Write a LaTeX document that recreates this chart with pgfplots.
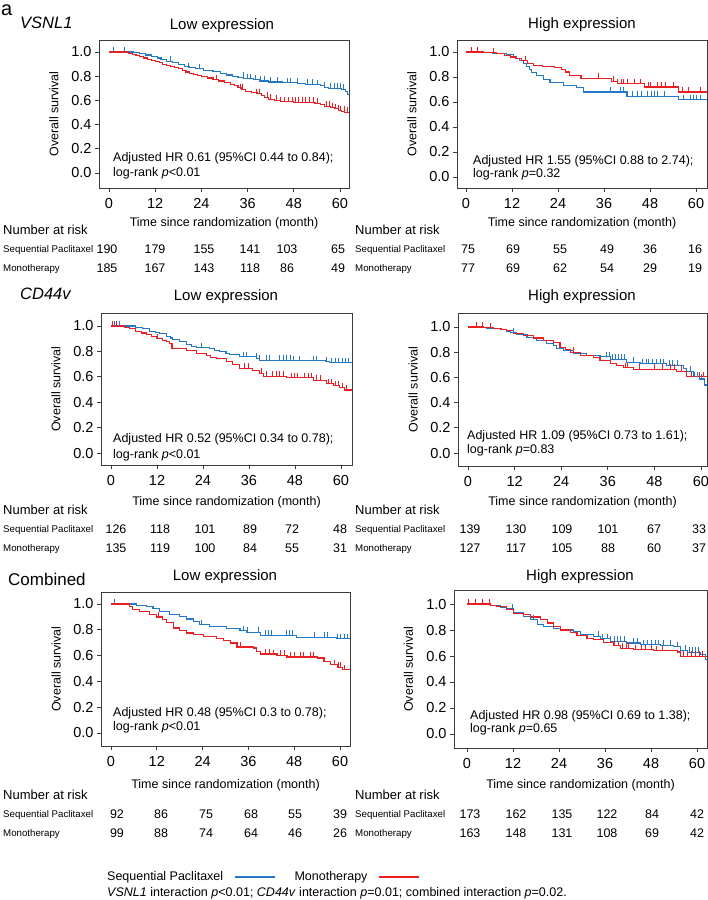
\documentclass[border=0pt]{standalone}
\usepackage{fontspec}
\setmainfont{Liberation Sans}
\usepackage{pgfplots}
\pgfplotsset{compat=1.18}
\definecolor{kmblue}{RGB}{35,120,200}
\definecolor{kmred}{RGB}{235,30,35}
\definecolor{axgray}{RGB}{60,60,60}
\newcommand\fs[1]{\fontsize{#1}{#1}\selectfont}
\pgfdeclareplotmark{cens}{\pgfpathmoveto{\pgfpoint{0pt}{0pt}}\pgfpathlineto{\pgfpoint{0pt}{5pt}}\pgfusepathqstroke}
\pgfplotsset{
  km/.style={
    scale only axis, anchor=north west,
    axis line style={draw=axgray, line width=0.8pt},
    xtick={0,12,24,36,48,60}, ytick={0,0.2,0.4,0.6,0.8,1.0},
    xtick pos=bottom, ytick pos=left,
    tick align=outside, major tick length=4pt,
    tick style={draw=axgray, line width=0.7pt},
    ticklabel style={font=\fs{14.5}},
    /pgf/number format/assume math mode=true,
    y tick label style={/pgf/number format/.cd, fixed, fixed zerofill, precision=1, /tikz/.cd},
    x tick label style={yshift=-3pt},
    xlabel={Time since randomization (month)},
    ylabel={Overall survival},
    label style={font=\fs{12.5}},
    xlabel style={at={(axis description cs:0.5,0)}, anchor=center},
    ylabel style={at={(axis description cs:-0.18,0.5)}, anchor=center},
  },
  bl/.style={kmblue, line width=1.1pt, const plot, no marks},
  rl/.style={kmred, line width=1.1pt, const plot, no marks},
  bc/.style={only marks, mark=cens, mark options={kmblue, line width=0.6pt}, forget plot},
  rc/.style={only marks, mark=cens, mark options={kmred, line width=0.6pt}, forget plot},
}
\begin{document}
\begin{tikzpicture}
\useasboundingbox (0pt,0pt) rectangle (708pt,-900pt);

% ---------------- Panel 1: VSNL1 low
\begin{axis}[km, at={(99pt,-40pt)}, width=250pt, height=148pt,
  xmin=-2.6, xmax=62.34, ymin=-0.124, ymax=1.099, xlabel style={yshift=-35pt}]
\addplot[bl] coordinates {(0,1)(6.3,0.995)(8,0.985)(9.5,0.975)(11,0.96)(12.5,0.95)(13.5,0.94)(15,0.925)(16.5,0.91)(18,0.895)(19.5,0.88)(21,0.87)(22.5,0.86)(24.5,0.85)(27,0.84)(29,0.825)(30.5,0.81)(32,0.80)(33.5,0.79)(35,0.78)(37.5,0.77)(39,0.76)(41.5,0.752)(45,0.745)(49,0.74)(51,0.735)(54,0.728)(55,0.72)(56,0.71)(57,0.70)(60.5,0.69)(61.5,0.67)(62,0.65)(62.34,0.65)};
\addplot[rl] coordinates {(0,1)(5,0.99)(6,0.98)(7,0.97)(8,0.96)(9,0.95)(10,0.94)(11,0.93)(12,0.92)(13,0.91)(14,0.90)(15,0.89)(16,0.88)(17,0.87)(18,0.86)(19,0.85)(20,0.835)(21,0.825)(22,0.815)(23,0.805)(24,0.795)(25.5,0.785)(27,0.77)(28.5,0.76)(30,0.745)(31.5,0.735)(32.5,0.72)(33.5,0.705)(34.5,0.69)(35.5,0.675)(37,0.665)(38.5,0.655)(39.5,0.64)(40.5,0.625)(41.5,0.61)(43,0.60)(44.5,0.59)(48,0.585)(53.5,0.575)(55,0.565)(56,0.55)(57.5,0.54)(58.5,0.53)(59.5,0.52)(60.5,0.51)(61.2,0.50)(62.34,0.50)};
\addplot[bc] coordinates {(1.1,1)(3.9,1)(15.8,0.925)(20.6,0.87)(23.5,0.86)(34.9,0.79)(35.8,0.78)(36.8,0.78)(38.1,0.77)(39.4,0.76)(40.3,0.76)(42,0.752)(43.7,0.752)(46.3,0.745)(47.2,0.745)(48.9,0.745)(51.5,0.735)(52.8,0.735)(54.1,0.728)(55.8,0.71)(57.5,0.70)(58.4,0.70)(59.3,0.70)(60,0.70)(60.8,0.69)};
\addplot[rc] coordinates {(28,0.77)(34,0.69)(34.6,0.69)(38.2,0.655)(39,0.655)(41,0.625)(42,0.61)(43.5,0.60)(44.6,0.59)(45.5,0.59)(46.5,0.59)(47.5,0.59)(48.5,0.585)(49.3,0.585)(50.2,0.585)(51,0.585)(52,0.585)(53,0.585)(54,0.575)(56.5,0.55)(57.3,0.55)(58,0.54)(58.8,0.53)(59.5,0.52)(60.2,0.51)(61,0.51)(61.8,0.50)};
\end{axis}

% ---------------- Panel 2: VSNL1 high
\begin{axis}[km, at={(457pt,-40pt)}, width=250pt, height=148pt,
  xmin=-2.35, xmax=62.87, ymin=-0.088, ymax=1.096, xlabel style={yshift=-35pt}]
\addplot[bl] coordinates {(0,1)(4.4,0.995)(7,0.99)(9,0.985)(10.5,0.98)(12.3,0.96)(13.2,0.95)(14,0.935)(15,0.91)(15.8,0.885)(16.5,0.86)(17,0.835)(18.4,0.81)(20.1,0.78)(21.9,0.755)(25.4,0.735)(28.9,0.715)(30.6,0.68)(42,0.645)(55.4,0.62)(62.87,0.62)};
\addplot[rl] coordinates {(0,1)(4.5,0.995)(8,0.985)(10,0.975)(11.5,0.96)(13,0.945)(14.5,0.93)(16,0.91)(17.5,0.895)(20,0.885)(23,0.875)(25,0.86)(26,0.84)(27,0.81)(30,0.79)(38,0.765)(39.5,0.745)(46.5,0.72)(55.5,0.68)(62.87,0.68)};
\addplot[bc] coordinates {(37.6,0.68)(40.2,0.68)(41,0.68)(43.5,0.645)(44.7,0.645)(45.6,0.645)(47.4,0.645)(48.3,0.645)(49.2,0.645)(50,0.645)(51.7,0.645)(56.7,0.62)(58.5,0.62)(59.3,0.62)(60.2,0.62)(61,0.62)};
\addplot[rc] coordinates {(1.5,1)(3,1)(7,0.99)(15.5,0.93)(34.5,0.79)(38.5,0.765)(39.5,0.745)(40.5,0.745)(41,0.745)(42,0.745)(44,0.745)(45.5,0.745)(47.5,0.72)(48,0.72)(50,0.72)(51,0.72)(52,0.72)(54,0.72)(56.5,0.68)(58,0.68)(61,0.68)};
\end{axis}

% ---------------- Panel 3: CD44v low
\begin{axis}[km, at={(101pt,-313pt)}, width=251pt, height=152pt,
  xmin=-2.61, xmax=62.87, ymin=-0.094, ymax=1.102, xlabel style={yshift=-37pt}]
\addplot[bl] coordinates {(0,1)(6.5,0.99)(8.3,0.98)(10,0.96)(11.5,0.95)(12.6,0.94)(14.4,0.92)(15.5,0.905)(16.1,0.89)(17.9,0.875)(19.6,0.855)(21,0.84)(22.2,0.83)(25.7,0.82)(27,0.81)(28.3,0.80)(30,0.785)(31,0.775)(33.6,0.757)(38,0.745)(38.8,0.73)(47.5,0.725)(56,0.72)(57.1,0.712)(62.87,0.712)};
\addplot[rl] coordinates {(0,1)(3.5,0.99)(4.8,0.98)(6.5,0.96)(8,0.945)(9.2,0.93)(10.5,0.915)(11.8,0.90)(13.5,0.888)(14.5,0.875)(15.3,0.862)(16.1,0.822)(19.6,0.804)(22.2,0.783)(24.8,0.765)(26,0.755)(27.5,0.744)(30.1,0.718)(31.8,0.697)(33.6,0.666)(37,0.653)(38.8,0.627)(39.7,0.605)(45.8,0.593)(52.8,0.574)(56.3,0.545)(58,0.53)(59.7,0.515)(61,0.496)(62.87,0.496)};
\addplot[bc] coordinates {(0.9,1)(2.2,1)(23.5,0.83)(34.4,0.757)(35.3,0.757)(38,0.745)(38.8,0.73)(40.5,0.73)(41.4,0.73)(44,0.73)(44.9,0.73)(45.8,0.73)(46.7,0.73)(47.5,0.725)(49.2,0.725)(52.7,0.725)(53.6,0.725)(56.2,0.72)(57.6,0.712)(58.5,0.712)(59.4,0.712)(60.3,0.712)(61.1,0.712)(62,0.712)};
\addplot[rc] coordinates {(0.4,1)(1.3,1)(12.2,0.9)(15.7,0.822)(34.9,0.666)(35.7,0.666)(39.2,0.627)(40.5,0.605)(42,0.605)(43,0.605)(44,0.605)(45,0.605)(47,0.593)(47.8,0.593)(48.7,0.593)(50.5,0.593)(51.4,0.593)(52.3,0.593)(53.6,0.574)(54.5,0.574)(56.8,0.545)(57.5,0.545)(58.5,0.53)(59.2,0.53)(60.3,0.515)(61.5,0.496)};
\end{axis}

% ---------------- Panel 4: CD44v high
\begin{axis}[km, at={(458pt,-313pt)}, width=249pt, height=153pt,
  xmin=-2.58, xmax=61.55, ymin=-0.103, ymax=1.111, xlabel style={yshift=-36pt}]
\addplot[bl] coordinates {(0,1)(3.2,0.995)(4.9,0.99)(8.3,0.98)(10,0.965)(11,0.955)(12.6,0.94)(15.2,0.92)(17.7,0.895)(20.3,0.868)(22,0.85)(22.9,0.83)(24.6,0.816)(27.2,0.79)(30.6,0.776)(34,0.763)(36.6,0.745)(40.9,0.72)(44.3,0.71)(51.2,0.697)(55.4,0.671)(56.3,0.65)(58,0.605)(59.7,0.587)(61,0.54)(61.55,0.54)};
\addplot[rl] coordinates {(0,1)(4,0.995)(6.6,0.99)(8.5,0.98)(10,0.97)(11.7,0.947)(14.3,0.93)(16.9,0.913)(19.5,0.895)(22,0.874)(23.7,0.84)(25,0.82)(26.3,0.80)(28.9,0.776)(32.3,0.758)(34,0.737)(36.6,0.71)(38.3,0.697)(40,0.676)(42.6,0.666)(53.7,0.65)(56.3,0.61)(58,0.605)(61.55,0.605)};
\addplot[bc] coordinates {(11.7,0.955)(35.7,0.763)(36.4,0.763)(37.2,0.745)(38,0.745)(38.8,0.745)(39.5,0.745)(40.3,0.745)(42.5,0.72)(44.8,0.71)(45.8,0.71)(46.5,0.71)(47.5,0.71)(48.5,0.71)(49.5,0.71)(50.3,0.71)(51.8,0.697)(52.5,0.697)(53.8,0.697)(57.2,0.65)(58.3,0.605)(59,0.605)(60,0.587)};
\addplot[rc] coordinates {(2.1,1)(3.6,1)(5.7,0.995)(27,0.80)(40.5,0.676)(41,0.676)(44,0.666)(48,0.666)(50,0.666)(52,0.666)(53,0.666)(55,0.65)(57.5,0.605)(59.5,0.605)(60.5,0.605)};
\end{axis}

% ---------------- Panel 5: Combined low
\begin{axis}[km, at={(101pt,-592pt)}, width=249pt, height=154pt,
  xmin=-2.62, xmax=62.62, ymin=-0.101, ymax=1.093, xlabel style={yshift=-39pt},
  legend plot pos=right, legend columns=2,
  legend image code/.code={\path (0pt,0pt); \draw[#1, line width=1.5pt] (11pt,0pt) -- (51pt,0pt);},
  legend style={draw=none, fill=none, inner sep=0pt, font=\fs{12.5}, nodes={inner sep=0pt},
    at={(rel axis cs:0.024,-0.851)}, anchor=west,
    /tikz/every even column/.append style={column sep=19pt}}]
\addplot[bl] coordinates {(0,1)(6.6,0.99)(9.2,0.98)(11,0.964)(12.7,0.943)(15.4,0.922)(18,0.904)(19.8,0.884)(21.5,0.866)(23.3,0.84)(25.9,0.827)(30.3,0.81)(33.8,0.793)(35.6,0.78)(39.1,0.757)(48.5,0.742)(59,0.73)(62.62,0.73)};
\addplot[rl] coordinates {(0,1)(4.8,0.98)(5.7,0.96)(7.5,0.943)(10.1,0.922)(11.9,0.899)(13.6,0.879)(14.5,0.86)(16.3,0.814)(18,0.796)(19.8,0.775)(21.5,0.762)(24.2,0.75)(27.7,0.736)(29.4,0.716)(31.2,0.698)(33,0.667)(37.3,0.659)(38.2,0.633)(39.1,0.612)(43.5,0.602)(46.1,0.589)(54,0.581)(55.8,0.556)(57.6,0.53)(59.3,0.51)(60.6,0.49)(62.62,0.49)};
\legend{Sequential Paclitaxel, Monotherapy}
\addplot[bc] coordinates {(0.9,1)(23.7,0.84)(34.7,0.793)(35.6,0.78)(38.5,0.78)(40.4,0.757)(41.2,0.757)(42,0.757)(46,0.757)(46.8,0.757)(47.6,0.757)(53.2,0.742)(55.8,0.742)(56.7,0.742)(59.3,0.73)(60.1,0.73)(61,0.73)(61.8,0.73)};
\addplot[rc] coordinates {(12.3,0.899)(33.8,0.667)(40.4,0.612)(41.5,0.612)(42.6,0.602)(44.4,0.602)(45.3,0.602)(47,0.589)(47.9,0.589)(49.6,0.589)(50.5,0.589)(52.2,0.589)(53.1,0.589)(58.5,0.53)(59.5,0.51)(60.2,0.51)(61.2,0.49)};
\end{axis}

% ---------------- Panel 6: Combined high
\begin{axis}[km, at={(454pt,-590pt)}, width=253pt, height=158pt,
  xmin=-3.39, xmax=62.6, ymin=-0.108, ymax=1.108, xlabel style={yshift=-37pt}]
\addplot[bl] coordinates {(0,1)(4.3,0.995)(6.1,0.99)(8.7,0.977)(10.4,0.964)(12.2,0.938)(14.8,0.905)(16.5,0.879)(18.3,0.846)(20,0.828)(22.6,0.815)(24.3,0.80)(27.8,0.79)(29.6,0.764)(33,0.751)(34.8,0.733)(37.4,0.713)(41.7,0.70)(45.2,0.687)(50.4,0.682)(53.9,0.67)(55.7,0.644)(57.4,0.628)(60.9,0.615)(62.2,0.57)(62.6,0.57)};
\addplot[rl] coordinates {(0,1)(6.1,0.99)(7.8,0.98)(10.4,0.956)(12.2,0.93)(14.8,0.918)(16.5,0.9)(19.1,0.879)(20.9,0.854)(22.6,0.828)(24.3,0.80)(27,0.78)(28.7,0.756)(31.3,0.738)(33,0.726)(35.7,0.705)(38.3,0.68)(40,0.66)(43.5,0.649)(48.7,0.641)(54.8,0.631)(55.7,0.597)(62.6,0.597)};
\addplot[bc] coordinates {(11.7,0.964)(17.4,0.879)(34.3,0.751)(35.2,0.733)(36.5,0.733)(37.5,0.713)(38.3,0.713)(39.1,0.713)(40,0.713)(41,0.713)(43.5,0.70)(44.3,0.70)(46,0.687)(47,0.687)(48,0.687)(49,0.687)(50,0.687)(51.3,0.682)(53,0.682)(54.8,0.67)(57,0.644)(58,0.628)(58.8,0.628)(59.6,0.628)(60.4,0.628)};
\addplot[rc] coordinates {(0.4,1)(2.2,1)(3.9,1)(5.7,1)(38.5,0.68)(39.5,0.68)(40.5,0.66)(41.5,0.66)(42.2,0.66)(44,0.649)(45.5,0.649)(46.5,0.649)(48,0.649)(49.5,0.641)(51,0.641)(56.5,0.597)(57.5,0.597)(58.5,0.597)(59.5,0.597)(60.5,0.597)(61.5,0.597)};
\end{axis}

% ---------------- section labels and titles
\node[anchor=base west, inner sep=0, font=\fs{20}] at (1pt,-15pt) {a};
\node[anchor=base west, inner sep=0, font=\fs{16.5}\itshape] at (20pt,-28.3pt) {VSNL1};
\node[anchor=base west, inner sep=0, font=\fs{16.5}\itshape] at (20pt,-299.5pt) {CD44v};
\node[anchor=base west, inner sep=0, font=\fs{17}] at (8pt,-585pt) {Combined};
\foreach \x/\y/\t in {222/29.5/Low, 582/28.5/High, 226/300.5/Low, 582/300.5/High, 225/580.5/Low, 580/580.5/High}
  \node[anchor=base, inner sep=0, font=\fs{15}] at (\x pt,-\y pt) {\t{} expression};

% ---------------- HR annotations
\node[anchor=base west, inner sep=0, font=\fs{12.5}] at (113pt,-161.5pt) {Adjusted HR 0.61 (95\%CI 0.44 to 0.84);};
\node[anchor=base west, inner sep=0, font=\fs{12.5}] at (113pt,-176.3pt) {log-rank \textit{p}<0.01};
\node[anchor=base west, inner sep=0, font=\fs{12.5}] at (473pt,-164.5pt) {Adjusted HR 1.55 (95\%CI 0.88 to 2.74);};
\node[anchor=base west, inner sep=0, font=\fs{12.5}] at (473pt,-177.8pt) {log-rank \textit{p}=0.32};
\node[anchor=base west, inner sep=0, font=\fs{12.5}] at (113pt,-442.8pt) {Adjusted HR 0.52 (95\%CI 0.34 to 0.78);};
\node[anchor=base west, inner sep=0, font=\fs{12.5}] at (113pt,-458.5pt) {log-rank \textit{p}<0.01};
\node[anchor=base west, inner sep=0, font=\fs{12.5}] at (467pt,-439.5pt) {Adjusted HR 1.09 (95\%CI 0.73 to 1.61);};
\node[anchor=base west, inner sep=0, font=\fs{12.5}] at (467pt,-453.8pt) {log-rank \textit{p}=0.83};
\node[anchor=base west, inner sep=0, font=\fs{12.5}] at (113pt,-716.2pt) {Adjusted HR 0.48 (95\%CI 0.3 to 0.78);};
\node[anchor=base west, inner sep=0, font=\fs{12.5}] at (113pt,-730.5pt) {log-rank \textit{p}<0.01};
\node[anchor=base west, inner sep=0, font=\fs{12.5}] at (470pt,-719.5pt) {Adjusted HR 0.98 (95\%CI 0.69 to 1.38);};
\node[anchor=base west, inner sep=0, font=\fs{12.5}] at (470pt,-732.8pt) {log-rank \textit{p}=0.65};

% ---------------- number at risk tables
\foreach \x/\y in {3/234.6, 355/234.6, 3/514.6, 355/514.6, 3/799.6, 355/799.6}
  \node[anchor=base west, inner sep=0, font=\fs{13}] at (\x pt,-\y pt) {Number at risk};
\foreach \x/\y in {3/252.4, 355/252.4, 3/532.4, 355/532.4, 3/817.4, 355/817.4}
  \node[anchor=base west, inner sep=0, font=\fs{9.7}] at (\x pt,-\y pt) {Sequential Paclitaxel};
\foreach \x/\y in {3/271.4, 355/271.4, 3/551.4, 355/551.4, 3/836.4, 355/836.4}
  \node[anchor=base west, inner sep=0, font=\fs{9.7}] at (\x pt,-\y pt) {Monotherapy};
% panel 1
\foreach \x/\n in {107/190,155/179,204/155,250/141,287/103,338/65}
  \node[anchor=base, inner sep=0, font=\fs{12.5}] at (\x pt,-253.5pt) {\n};
\foreach \x/\n in {107/185,155/167,204/143,250/118,287/86,338/49}
  \node[anchor=base, inner sep=0, font=\fs{12.5}] at (\x pt,-272.5pt) {\n};
% panel 2
\foreach \x/\n in {468/75,513/69,560/55,607/49,650/36,695/16}
  \node[anchor=base, inner sep=0, font=\fs{12.5}] at (\x pt,-253.5pt) {\n};
\foreach \x/\n in {468/77,513/69,560/62,607/54,650/29,695/19}
  \node[anchor=base, inner sep=0, font=\fs{12.5}] at (\x pt,-272.5pt) {\n};
% panel 3
\foreach \x/\n in {116/126,160/118,205/101,250/89,292/72,340/48}
  \node[anchor=base, inner sep=0, font=\fs{12.5}] at (\x pt,-533.5pt) {\n};
\foreach \x/\n in {116/135,160/119,205/100,250/84,292/55,340/31}
  \node[anchor=base, inner sep=0, font=\fs{12.5}] at (\x pt,-552.5pt) {\n};
% panel 4
\foreach \x/\n in {470/139,516/130,562/109,608/101,654/67,699/33}
  \node[anchor=base, inner sep=0, font=\fs{12.5}] at (\x pt,-533.5pt) {\n};
\foreach \x/\n in {470/127,516/117,562/105,608/88,654/60,699/37}
  \node[anchor=base, inner sep=0, font=\fs{12.5}] at (\x pt,-552.5pt) {\n};
% panel 5
\foreach \x/\n in {117/92,161/86,206/75,251/68,295/55,340/39}
  \node[anchor=base, inner sep=0, font=\fs{12.5}] at (\x pt,-818.5pt) {\n};
\foreach \x/\n in {117/99,161/88,206/74,251/64,295/46,340/26}
  \node[anchor=base, inner sep=0, font=\fs{12.5}] at (\x pt,-837.5pt) {\n};
% panel 6
\foreach \x/\n in {470/173,516/162,562/135,607/122,652/84,697/42}
  \node[anchor=base, inner sep=0, font=\fs{12.5}] at (\x pt,-818.5pt) {\n};
\foreach \x/\n in {470/163,516/148,562/131,607/108,652/69,697/42}
  \node[anchor=base, inner sep=0, font=\fs{12.5}] at (\x pt,-837.5pt) {\n};

% ---------------- footnote
\node[anchor=base west, inner sep=0, font=\fs{12.5}] at (107pt,-896.5pt)
  {\textit{VSNL1} interaction \textit{p}<0.01; \textit{CD44v} interaction \textit{p}=0.01; combined interaction \textit{p}=0.02.};
\end{tikzpicture}
\end{document}
